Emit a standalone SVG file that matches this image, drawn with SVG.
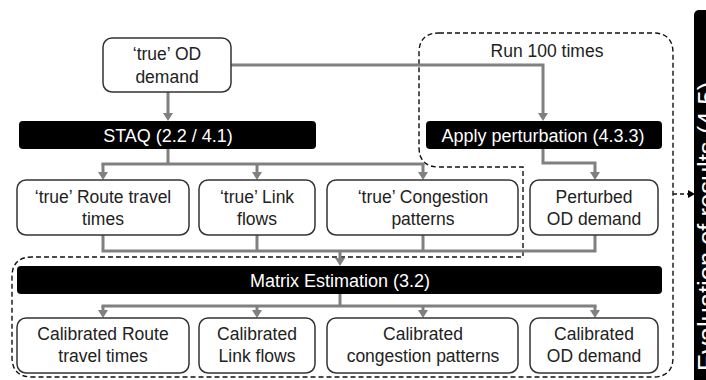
<svg xmlns="http://www.w3.org/2000/svg" width="706" height="380" viewBox="0 0 706 380">
<defs>
<marker id="ah" markerUnits="userSpaceOnUse" markerWidth="10" markerHeight="12" refX="0" refY="0" viewBox="0 -6 10 12" orient="auto">
<path d="M0,-5 L8,0 L0,5 z" fill="#808080"/>
</marker>
<marker id="ahb" markerUnits="userSpaceOnUse" markerWidth="8" markerHeight="10" refX="0" refY="0" viewBox="0 -5 8 10" orient="auto">
<path d="M0,-4 L7,0 L0,4 z" fill="#000"/>
</marker>
</defs>
<style>
.box{fill:#fff;stroke:#333;stroke-width:1.5}
.bar{fill:#000}
.t{font-family:"Liberation Sans",Arial,sans-serif;font-size:17.5px;fill:#222;text-anchor:middle}
.w{font-family:"Liberation Sans",Arial,sans-serif;font-size:18px;fill:#fff;text-anchor:middle}
.c{fill:none;stroke:#808080;stroke-width:3}
.a{fill:none;stroke:#808080;stroke-width:3;marker-end:url(#ah)}
.d{fill:none;stroke:#111;stroke-width:1.4;stroke-dasharray:5 3}
</style>
<rect width="706" height="380" fill="#fff"/>

<g id="loop">
<path class="d" d="M439,33 H653 Q673,33 673,53 V357 Q673,377 653,377 H32 Q12,377 12,357 V277 Q12,257 32,257 H523 V167 H439 Q419,167 419,147 V53 Q419,33 439,33 Z"/>
<text class="t" x="547" y="57">Run 100 times</text>
</g>

<g id="connectors">
<path class="a" d="M168,92 V113"/>
<path class="c" d="M168,149 V164 M101.5,164 H424.5"/>
<path class="a" d="M103,164 V172"/>
<path class="a" d="M257,164 V172"/>
<path class="a" d="M423,164 V172"/>
<path class="a" d="M231,65 H543 V113"/>
<path class="a" d="M543,149 V163 H595 V172"/>
<path class="c" d="M103,235 V251 H595 V235 M257,235 V251 M423,235 V251"/>
<path class="a" d="M340,251 V258"/>
<path class="c" d="M340,294 V306 M101.5,306 H596.5"/>
<path class="a" d="M103,306 V310"/>
<path class="a" d="M257,306 V310"/>
<path class="a" d="M423,306 V310"/>
<path class="a" d="M595,306 V310"/>
<path d="M673,194 H688" fill="none" stroke="#111" stroke-width="1.3" stroke-dasharray="4 3" marker-end="url(#ahb)"/>
</g>

<g id="od">
<rect class="box" x="103" y="38" width="128" height="54" rx="9"/>
<text class="t" x="167" y="60">‘true’ OD</text>
<text class="t" x="167" y="83">demand</text>
</g>

<g id="staq">
<rect class="bar" x="19" y="121" width="297" height="28" rx="4"/>
<text class="w" x="168" y="142">STAQ (2.2 / 4.1)</text>
</g>

<g id="apply">
<rect class="bar" x="426" y="121" width="236" height="28" rx="4"/>
<text class="w" x="543" y="142">Apply perturbation (4.3.3)</text>
</g>

<g id="true-route">
<rect class="box" x="17" y="180" width="172" height="55" rx="9"/>
<text class="t" x="103" y="203">‘true’ Route travel</text>
<text class="t" x="103" y="225">times</text>
</g>
<g id="true-link">
<rect class="box" x="199" y="180" width="116" height="55" rx="9"/>
<text class="t" x="257" y="203">‘true’ Link</text>
<text class="t" x="257" y="225">flows</text>
</g>
<g id="true-cong">
<rect class="box" x="327" y="180" width="191" height="55" rx="9"/>
<text class="t" x="423" y="203">‘true’ Congestion</text>
<text class="t" x="423" y="225">patterns</text>
</g>
<g id="perturbed">
<rect class="box" x="530" y="180" width="128" height="55" rx="9"/>
<text class="t" x="594" y="203">Perturbed</text>
<text class="t" x="594" y="225">OD demand</text>
</g>

<g id="matrix">
<rect class="bar" x="17" y="266" width="645" height="28" rx="4"/>
<text class="w" x="340" y="287">Matrix Estimation (3.2)</text>
</g>

<g id="cal-route">
<rect class="box" x="17" y="318" width="172" height="55" rx="9"/>
<text class="t" x="103" y="340">Calibrated Route</text>
<text class="t" x="103" y="362">travel times</text>
</g>
<g id="cal-link">
<rect class="box" x="199" y="318" width="116" height="55" rx="9"/>
<text class="t" x="257" y="340">Calibrated</text>
<text class="t" x="257" y="362">Link flows</text>
</g>
<g id="cal-cong">
<rect class="box" x="327" y="318" width="191" height="55" rx="9"/>
<text class="t" x="423" y="340">Calibrated</text>
<text class="t" x="423" y="362">congestion patterns</text>
</g>
<g id="cal-od">
<rect class="box" x="530" y="318" width="128" height="55" rx="9"/>
<text class="t" x="594" y="340">Calibrated</text>
<text class="t" x="594" y="362">OD demand</text>
</g>

<g id="evaluation">
<rect class="bar" x="694" y="10" width="30" height="380" rx="5"/>
<text transform="translate(716,371) rotate(-90)" font-family="Liberation Sans, Arial, sans-serif" font-size="25.5" fill="#fff">Evaluation of results (4.5)</text>
</g>
</svg>
